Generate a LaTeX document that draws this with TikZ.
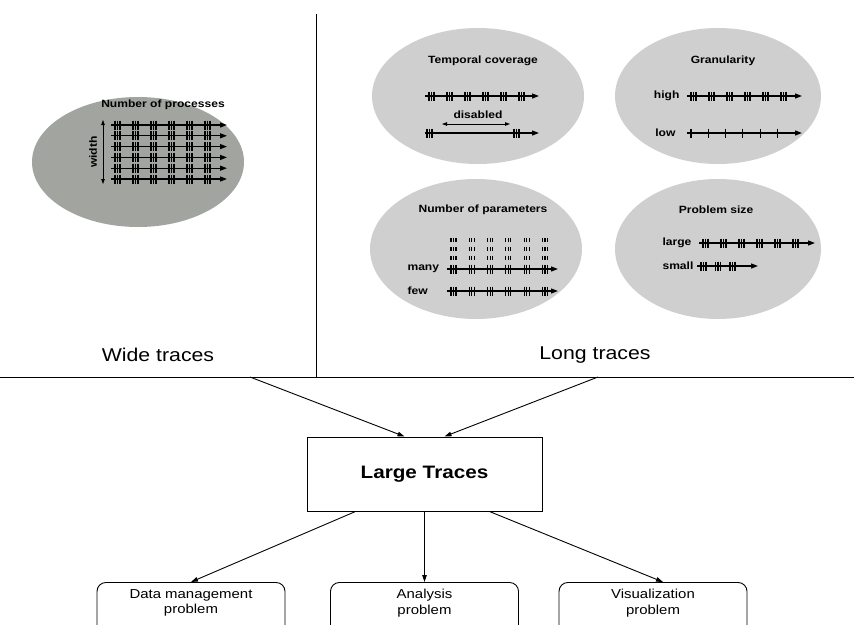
\documentclass[tikz,border=0pt]{standalone}
\usepackage{fontspec}
\setmainfont[FakeStretch=1.15]{Liberation Sans}
\usetikzlibrary{calc,arrows.meta}
\definecolor{darkfill}{HTML}{A2A59F}
\definecolor{lightfill}{HTML}{CFCFCF}
\tikzset{
  rule/.style={draw=black, line width=0.8pt},
  conn/.style={draw=black, line width=0.9pt, -{Triangle[length=7pt,width=4.5pt]}},
  trace/.style={draw=black, line width=1.2pt, -{Triangle[length=7pt,width=5pt]}},
  tick/.style={draw=black, line width=1.1pt},
  twoway/.style={draw=black, line width=0.8pt, {Triangle[length=5pt,width=3.5pt]}-{Triangle[length=5pt,width=3.5pt]}},
  ttl/.style={font=\bfseries\fontsize{10.5}{12}\selectfont},
  lbl/.style={font=\bfseries\fontsize{10.5}{12}\selectfont},
  sect/.style={font=\fontsize{18.5}{22}\selectfont},
  hub/.style={draw=black, line width=1pt, minimum width=235pt, minimum height=74pt, font=\bfseries\fontsize{18}{22}\selectfont},
  prob/.style={draw=black, line width=0.9pt, rounded corners=9pt, minimum width=188pt, minimum height=62pt, anchor=north},
  probtxt/.style={anchor=north, align=center, inner sep=0pt, font=\fontsize{13}{15.5}\selectfont},
}
% one group of ticks, then one time line
\newcommand\tickgroup[4]{\foreach \t in {1,...,#3} \draw[tick] ({#1+(\t-1)*2.5},{#2-#4}) -- ++(0,2*#4);}
\newcommand\tracerow[6]{%
  \draw[trace] (#1,#2) -- ++(#3,0);
  \foreach \g in {1,...,#4} \tickgroup{#1+4+(\g-1)*#6}{#2}{#5}{4.5};
}

\begin{document}
\begin{tikzpicture}[x=1pt,y=-1pt]
  \useasboundingbox (0,0) rectangle (854,624);

  % wide traces
  \fill[darkfill] (138,162) ellipse [x radius=106pt, y radius=65pt];
  \node[ttl] (np) at (163,105) {Number of processes};
  \foreach \k in {0,...,5} \tracerow{111}{125+10.8*\k}{116}{6}{3}{18};
  \draw[twoway] (103,120) -- (103,184);
  \node[lbl, rotate=90] (wd) at (93,152) {width};

  % long traces
  \fill[lightfill] (478,96) ellipse [x radius=106pt, y radius=68pt];
  \fill[lightfill] (718,96) ellipse [x radius=103pt, y radius=68pt];
  \fill[lightfill] (476,249) ellipse [x radius=106pt, y radius=70pt];
  \fill[lightfill] (718,249) ellipse [x radius=103pt, y radius=70pt];

  \node[ttl] (tc) at (483,61) {Temporal coverage};
  \tracerow{425}{96}{114}{6}{3}{18};
  \node[lbl] (dis) at (478,115) {disabled};
  \draw[twoway] (442,124) -- (510,124);
  \draw[trace] (425,133) -- ++(114,0);
  \tickgroup{427}{133}{3}{4.5};
  \tickgroup{514}{133}{3}{4.5};

  \node[ttl] (gr) at (723,61) {Granularity};
  \node[lbl, anchor=east] (hi) at (683,96) {high};
  \tracerow{687}{96}{115}{6}{3}{18};
  \node[lbl, anchor=east] (lo) at (679,133) {low};
  \tracerow{687}{133}{115}{6}{1}{17.3};

  \node[ttl] (npar) at (483,210) {Number of parameters};
  \foreach \r in {240,249,258}
    \foreach \g in {1,...,6} \tickgroup{451+(\g-1)*18.3}{\r}{3}{2.2};
  \node[lbl, anchor=west] (many) at (404,269) {many};
  \tracerow{447}{269}{111}{6}{3}{18.3};
  \node[lbl, anchor=west] (few) at (404,291) {few};
  \tracerow{447}{291}{111}{6}{3}{18.3};

  \node[ttl] (ps) at (716,210) {Problem size};
  \node[lbl, anchor=west] (lg) at (659,243) {large};
  \tracerow{699}{243}{116}{6}{3}{18};
  \node[lbl, anchor=west] (sm) at (659,266) {small};
  \tracerow{697}{266}{61}{3}{3}{14.5};

  % separators
  \draw[rule] (316,14) -- (316,377);
  \draw[rule] (0,377) -- (854,377);
  \node[sect] (wide) at (158,355) {Wide traces};
  \node[sect] (long) at (595,355) {Long traces};

  % large traces and problems
  \node[hub] (lt) at (424.5,474) {Large Traces};
  \coordinate (fromW) at (250,377);
  \coordinate (fromL) at (598,377);
  \coordinate (inW) at ($(lt.north)+(-20,0)$);
  \coordinate (inL) at ($(lt.north)+(20,0)$);
  \draw[conn] (fromW) -- (inW);
  \draw[conn] (fromL) -- (inL);

  \node[prob] (dm) at (191,582) {};
  \node[probtxt] (dmt) at ($(dm.north)+(0,7)$) {Data management\\problem};
  \node[prob] (an) at (424.5,582) {};
  \node[probtxt] (ant) at ($(an.north)+(0,7)$) {Analysis\\problem};
  \node[prob] (vz) at (653,582) {};
  \node[probtxt] (vzt) at ($(vz.north)+(0,7)$) {Visualization\\problem};

  \draw[conn] ($(lt.south)+(-69,0)$) -- (dm.north);
  \draw[conn] (lt.south) -- (an.north);
  \draw[conn] ($(lt.south)+(65,0)$) -- ($(vz.north)+(10,0)$);
\end{tikzpicture}
\end{document}
